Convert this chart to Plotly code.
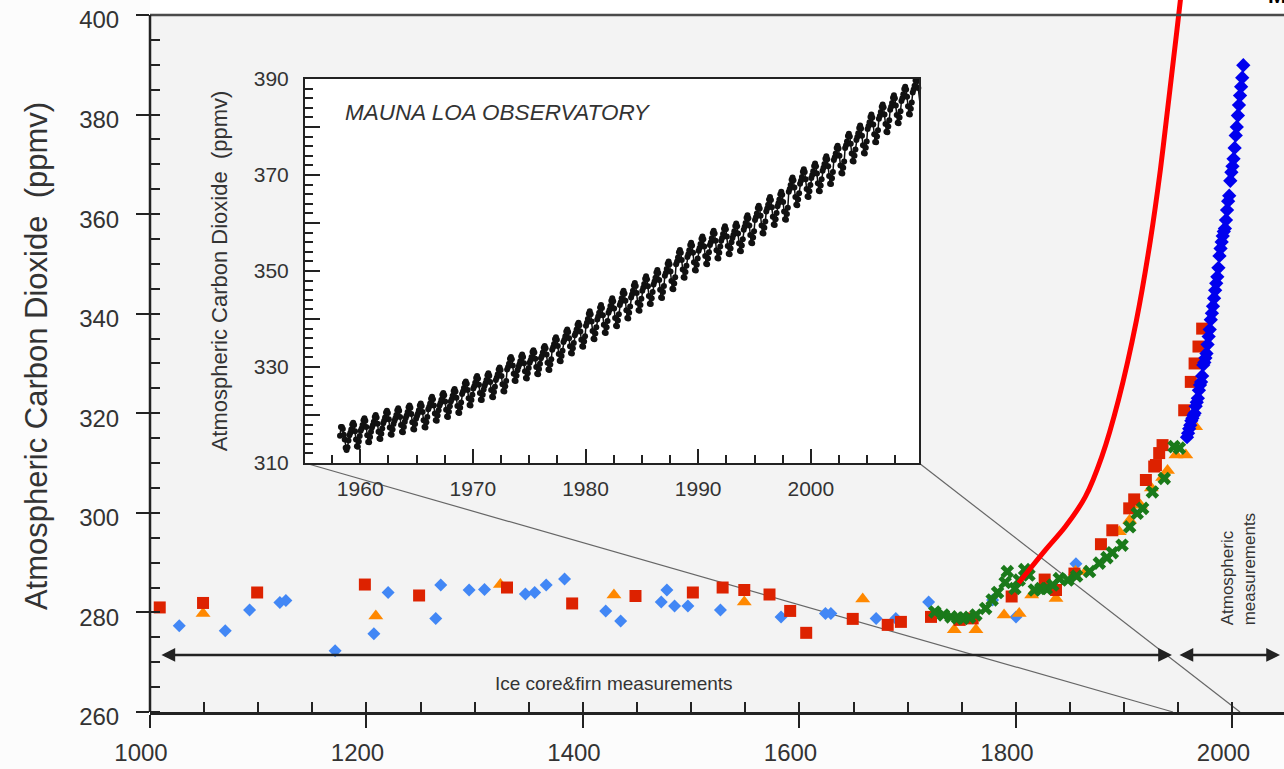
import plotly.graph_objects as go

# ---------------- main panel data (year, ppmv) ----------------
blue_ice_year = [1027, 1069.5, 1092, 1120, 1125.5, 1171, 1206.8, 1220, 1264, 1268.6,
                 1294.8, 1309, 1346.8, 1355.4, 1366, 1383, 1421, 1434.8, 1472.3, 1477.5,
                 1484.6, 1496.9, 1527, 1583, 1624, 1629, 1670.8, 1689, 1719.3, 1778.4,
                 1800, 1855.4]
blue_ice_ppm = [277.3, 276.3, 280.5, 282.0, 282.4, 272.3, 275.7, 284.0, 278.8, 285.5,
                284.5, 284.6, 283.7, 284.0, 285.5, 286.7, 280.3, 278.3, 282.1, 284.5,
                281.3, 281.3, 280.5, 279.1, 279.8, 279.8, 278.8, 278.8, 282.1, 282.5,
                279.1, 289.8]

red_ice_year = [1009, 1049, 1099, 1198.5, 1248.6, 1329.8, 1390, 1448.5, 1501.5, 1529,
                1549, 1572.3, 1591.4, 1606.2, 1649.2, 1681.5, 1693.7, 1721.5, 1748, 1760,
                1796, 1826.5, 1837, 1854, 1878.5, 1889, 1904.6, 1909.2, 1920, 1927.7,
                1929.3, 1932.3, 1935.4, 1955.4, 1961.5, 1965, 1968.6, 1972]
red_ice_ppm = [281.0, 281.9, 284.0, 285.6, 283.4, 285.0, 281.8, 283.3, 284.0, 285.0,
               284.5, 283.6, 280.3, 275.9, 278.7, 277.5, 278.1, 279.1, 278.5, 278.8,
               283.2, 286.6, 284.5, 287.8, 293.7, 296.5, 300.9, 302.7, 306.6, 309.3,
               309.6, 312.0, 313.6, 320.6, 326.3, 330.0, 333.4, 337.0]

orange_ice_year = [1049, 1208.6, 1323.7, 1428.6, 1549, 1658.4, 1743, 1763, 1789, 1803,
                   1814.5, 1837, 1855, 1864.5, 1895.4, 1905, 1915, 1925, 1935.4, 1940,
                   1947.7, 1956.9, 1966]
orange_ice_ppm = [279.8, 279.3, 285.6, 283.5, 282.1, 282.7, 276.5, 276.5, 279.5, 279.8,
                  283.5, 282.8, 288.2, 288.2, 296.2, 298.5, 301.5, 305.0, 307.1, 308.5,
                  311.6, 311.6, 317.3]

green_firn_year = [1725, 1733, 1740, 1746, 1751, 1757, 1763, 1772, 1778, 1783,
                   1790, 1792, 1799, 1803, 1808, 1812, 1817, 1823, 1828, 1834,
                   1840, 1848, 1856, 1868, 1877, 1884, 1889, 1898, 1905, 1912,
                   1917, 1926, 1937, 1946, 1951]
green_firn_ppm = [280.1, 279.5, 279.1, 278.9, 278.8, 279.0, 279.5, 280.8, 282.5, 284.0,
                  286.0, 288.2, 284.8, 286.5, 288.6, 287.5, 284.5, 284.8, 284.8, 285.5,
                  286.8, 286.5, 287.3, 288.2, 289.9, 291.0, 292.0, 293.5, 297.2, 299.9,
                  300.9, 304.2, 306.9, 313.3, 313.0]

mlo_annual_year = list(range(1958, 2011))
mlo_annual_ppm = [315.2, 316.0, 316.9, 317.6, 318.5, 319.0, 319.6, 320.0, 321.4, 322.2,
                  323.0, 324.6, 325.7, 326.3, 327.5, 329.7, 330.2, 331.1, 332.0, 333.8,
                  335.4, 336.8, 338.8, 340.1, 341.5, 343.1, 344.7, 346.1, 347.4, 349.2,
                  351.6, 353.1, 354.4, 355.6, 356.5, 357.1, 358.8, 360.8, 362.6, 363.7,
                  366.7, 368.4, 369.6, 371.1, 373.3, 375.8, 377.5, 379.8, 381.9, 383.8,
                  385.6, 387.4, 389.9]

red_curve_year = [1802.4, 1827.1, 1845.5, 1864.0, 1879.3, 1894.7, 1911.3, 1924.2,
                  1933.4, 1938.9, 1945.4, 1951.9, 1953.5]
red_curve_ppm = [285.9, 292.5, 297.2, 303.2, 311.3, 322.7, 338.7, 354.8,
                 368.9, 378.9, 390.9, 403.0, 407.0]

# ---------------- inset: Mauna Loa monthly (first row starts in March 1958) ----------------
mlo_first_year = 1958
mlo_first_month = 3
mlo_monthly = [
    [315.7, 317.5, 317.5, 317.1, 315.9, 314.9, 313.2, 312.7, 313.3, 314.7],
    [315.8, 316.3, 317.0, 318.0, 318.4, 317.9, 316.6, 314.9, 313.5, 313.4, 314.5, 315.6],
    [316.7, 317.2, 317.9, 318.9, 319.3, 318.8, 317.5, 315.8, 314.4, 314.3, 315.4, 316.5],
    [317.4, 317.9, 318.6, 319.6, 320.0, 319.5, 318.2, 316.5, 315.1, 315.0, 316.1, 317.2],
    [318.3, 318.8, 319.5, 320.5, 320.9, 320.4, 319.1, 317.4, 316.0, 315.9, 317.0, 318.1],
    [318.8, 319.3, 320.0, 321.0, 321.4, 320.9, 319.6, 317.9, 316.5, 316.4, 317.5, 318.6],
    [319.4, 319.9, 320.6, 321.6, 322.0, 321.5, 320.2, 318.5, 317.1, 317.0, 318.1, 319.2],
    [319.8, 320.3, 321.0, 322.0, 322.4, 321.9, 320.6, 318.9, 317.5, 317.4, 318.5, 319.6],
    [321.2, 321.7, 322.4, 323.4, 323.8, 323.3, 322.0, 320.3, 318.9, 318.8, 319.9, 321.0],
    [322.0, 322.5, 323.2, 324.2, 324.6, 324.1, 322.8, 321.1, 319.7, 319.6, 320.7, 321.8],
    [322.8, 323.3, 324.0, 325.0, 325.4, 324.9, 323.6, 321.9, 320.5, 320.4, 321.5, 322.6],
    [324.4, 324.9, 325.6, 326.6, 327.0, 326.5, 325.2, 323.5, 322.1, 322.0, 323.1, 324.2],
    [325.5, 326.0, 326.7, 327.7, 328.1, 327.6, 326.3, 324.6, 323.2, 323.1, 324.2, 325.3],
    [326.1, 326.6, 327.3, 328.3, 328.7, 328.2, 326.9, 325.2, 323.8, 323.7, 324.8, 325.9],
    [327.3, 327.8, 328.5, 329.5, 329.9, 329.4, 328.1, 326.4, 325.0, 324.9, 326.0, 327.1],
    [329.5, 330.0, 330.7, 331.7, 332.1, 331.6, 330.3, 328.6, 327.2, 327.1, 328.2, 329.3],
    [330.0, 330.5, 331.2, 332.2, 332.6, 332.1, 330.8, 329.1, 327.7, 327.6, 328.7, 329.8],
    [330.9, 331.4, 332.1, 333.1, 333.5, 333.0, 331.7, 330.0, 328.6, 328.5, 329.6, 330.7],
    [331.8, 332.3, 333.0, 334.0, 334.4, 333.9, 332.6, 330.9, 329.5, 329.4, 330.5, 331.6],
    [333.6, 334.1, 334.8, 335.8, 336.2, 335.7, 334.4, 332.7, 331.3, 331.2, 332.3, 333.4],
    [335.2, 335.7, 336.4, 337.4, 337.8, 337.3, 336.0, 334.3, 332.9, 332.8, 333.9, 335.0],
    [336.6, 337.1, 337.8, 338.8, 339.2, 338.7, 337.4, 335.7, 334.3, 334.2, 335.3, 336.4],
    [338.6, 339.2, 340.0, 341.1, 341.6, 341.0, 339.5, 337.5, 335.9, 335.8, 337.0, 338.3],
    [339.9, 340.5, 341.3, 342.4, 342.9, 342.3, 340.8, 338.8, 337.2, 337.1, 338.3, 339.6],
    [341.3, 341.9, 342.7, 343.8, 344.3, 343.7, 342.2, 340.2, 338.6, 338.5, 339.7, 341.0],
    [342.9, 343.5, 344.3, 345.4, 345.9, 345.3, 343.8, 341.8, 340.2, 340.1, 341.3, 342.6],
    [344.5, 345.1, 345.9, 347.0, 347.5, 346.9, 345.4, 343.4, 341.8, 341.7, 342.9, 344.2],
    [345.9, 346.5, 347.3, 348.4, 348.9, 348.3, 346.8, 344.8, 343.2, 343.1, 344.3, 345.6],
    [347.2, 347.8, 348.6, 349.7, 350.2, 349.6, 348.1, 346.1, 344.5, 344.4, 345.6, 346.9],
    [349.0, 349.6, 350.4, 351.5, 352.0, 351.4, 349.9, 347.9, 346.3, 346.2, 347.4, 348.7],
    [351.4, 352.0, 352.8, 353.9, 354.4, 353.8, 352.3, 350.3, 348.7, 348.6, 349.8, 351.1],
    [352.9, 353.5, 354.3, 355.4, 355.9, 355.3, 353.8, 351.8, 350.2, 350.1, 351.3, 352.6],
    [354.2, 354.8, 355.6, 356.7, 357.2, 356.6, 355.1, 353.1, 351.5, 351.4, 352.6, 353.9],
    [355.4, 356.0, 356.8, 357.9, 358.4, 357.8, 356.3, 354.3, 352.7, 352.6, 353.8, 355.1],
    [356.3, 356.9, 357.7, 358.8, 359.3, 358.7, 357.2, 355.2, 353.6, 353.5, 354.7, 356.0],
    [356.9, 357.5, 358.3, 359.4, 359.9, 359.3, 357.8, 355.8, 354.2, 354.1, 355.3, 356.6],
    [358.6, 359.2, 360.0, 361.1, 361.6, 361.0, 359.5, 357.5, 355.9, 355.8, 357.0, 358.3],
    [360.6, 361.2, 362.0, 363.1, 363.6, 363.0, 361.5, 359.5, 357.9, 357.8, 359.0, 360.3],
    [362.4, 363.0, 363.8, 364.9, 365.4, 364.8, 363.3, 361.3, 359.7, 359.6, 360.8, 362.1],
    [363.5, 364.1, 364.9, 366.0, 366.5, 365.9, 364.4, 362.4, 360.8, 360.7, 361.9, 363.2],
    [366.5, 367.1, 367.9, 369.0, 369.5, 368.9, 367.4, 365.4, 363.8, 363.7, 364.9, 366.2],
    [368.2, 368.8, 369.6, 370.7, 371.2, 370.6, 369.1, 367.1, 365.5, 365.4, 366.6, 367.9],
    [369.4, 370.0, 370.8, 371.9, 372.4, 371.8, 370.3, 368.3, 366.7, 366.6, 367.8, 369.1],
    [370.9, 371.5, 372.3, 373.4, 373.9, 373.3, 371.8, 369.8, 368.2, 368.1, 369.3, 370.6],
    [373.1, 373.7, 374.5, 375.6, 376.1, 375.5, 374.0, 372.0, 370.4, 370.3, 371.5, 372.8],
    [375.6, 376.2, 377.0, 378.1, 378.6, 378.0, 376.5, 374.5, 372.9, 372.8, 374.0, 375.3],
    [377.3, 377.9, 378.7, 379.8, 380.3, 379.7, 378.2, 376.2, 374.6, 374.5, 375.7, 377.0],
    [379.6, 380.2, 381.0, 382.1, 382.6, 382.0, 380.5, 378.5, 376.9, 376.8, 378.0, 379.3],
    [381.7, 382.3, 383.1, 384.2, 384.7, 384.1, 382.6, 380.6, 379.0, 378.9, 380.1, 381.4],
    [383.6, 384.2, 385.0, 386.1, 386.6, 386.0, 384.5, 382.5, 380.9, 380.8, 382.0, 383.3],
    [385.4, 386.0, 386.8, 387.9, 388.4, 387.8, 386.3, 384.3, 382.7, 382.6, 383.8, 385.1],
    [387.2, 387.8, 388.6, 389.7, 390.2, 389.6, 388.1, 386.1, 384.5, 384.4, 385.6, 386.9],
    [388.5, 389.3, 390.2, 391.0, 391.4, 390.8, 389.2],
]

# tick / label text
main_x_ticks = [1000, 1200, 1400, 1600, 1800, 2000]
inset_x_ticks = [1960, 1970, 1980, 1990, 2000, 2010]
inset_y_ticks = [310, 320, 330, 340, 350, 360, 370, 380, 390]
inset_y_text = ['310', '', '330', '', '350', '', '370', '', '390']

# ---------------- geometry ----------------
W, H = 1284, 769
ML, MR, MT, MB = 150, 0, 0, 57
PW, PH = W - ML - MR, H - MT - MB
X_RANGE = [1000, 2047.6]
Y_RANGE = [260, 403.0]
INSET_X_RANGE = [1955.1, 2009.6]
INSET_Y_RANGE = [310, 390]
inset_dom_x = [(305 - ML) / PW, (919 - ML) / PW]
inset_dom_y = [(H - MB - 463) / PH, (H - MB - 79) / PH]


def ypaper(v):
    return (v - Y_RANGE[0]) / (Y_RANGE[1] - Y_RANGE[0])


def xpaper_px(px):
    return (px - ML) / PW


FONT = 'Liberation Sans, Arial, Helvetica, sans-serif'
INK = '#222222'
TXT = '#333333'

# inset x positions
mlo_x, mlo_y = [], []
for i, row in enumerate(mlo_monthly):
    yr = mlo_first_year + i
    m0 = mlo_first_month if i == 0 else 1
    for j, v in enumerate(row):
        mlo_x.append(yr + (m0 + j - 0.5) / 12.0)
        mlo_y.append(v)

fig = go.Figure()
fig.add_trace(go.Scatter(x=blue_ice_year, y=blue_ice_ppm, mode='markers',
                         marker=dict(symbol='diamond', size=10, color='#4287f5', line=dict(width=0)),
                         hoverinfo='skip'))
fig.add_trace(go.Scatter(x=orange_ice_year, y=orange_ice_ppm, mode='markers',
                         marker=dict(symbol='triangle-up', size=13, color='#ff8800', line=dict(width=0)),
                         hoverinfo='skip'))
fig.add_trace(go.Scatter(x=red_ice_year, y=red_ice_ppm, mode='markers',
                         marker=dict(symbol='square', size=12, color='#dd2200', line=dict(width=0)),
                         hoverinfo='skip'))
fig.add_trace(go.Scatter(x=green_firn_year, y=green_firn_ppm, mode='markers',
                         marker=dict(symbol='x', size=12, color='#1a7a1a', line=dict(width=0)),
                         hoverinfo='skip'))
fig.add_trace(go.Scatter(x=mlo_annual_year, y=mlo_annual_ppm, mode='markers',
                         marker=dict(symbol='diamond', size=11, color='#0000ee', line=dict(width=0)),
                         hoverinfo='skip'))
fig.add_trace(go.Scatter(x=red_curve_year, y=red_curve_ppm, mode='lines',
                         line=dict(color='#ff0000', width=5, shape='spline', smoothing=0.8),
                         hoverinfo='skip'))
# inset
fig.add_trace(go.Scatter(x=mlo_x, y=mlo_y, mode='lines+markers', xaxis='x2', yaxis='y2',
                         line=dict(color='#111111', width=1.5),
                         marker=dict(symbol='circle', size=6, color='#111111'),
                         cliponaxis=False, hoverinfo='skip'))
# helper trace for overlay tick axes
fig.add_trace(go.Scatter(x=[X_RANGE[0]], y=[Y_RANGE[0]], xaxis='x3', yaxis='y3', mode='markers',
                         marker=dict(opacity=0), hoverinfo='skip'))

shapes = [
    dict(type='rect', xref='paper', yref='paper', x0=0, x1=1, y0=0, y1=ypaper(400),
         fillcolor='#f3f3f3', line=dict(width=0), layer='below'),
    dict(type='rect', xref='x2', yref='y2', x0=INSET_X_RANGE[0], x1=INSET_X_RANGE[1],
         y0=INSET_Y_RANGE[0], y1=INSET_Y_RANGE[1], fillcolor='#ffffff', line=dict(width=0), layer='below'),
    dict(type='line', xref='paper', yref='paper', x0=inset_dom_x[0], y0=inset_dom_y[0],
         x1=xpaper_px(1173), y1=0, line=dict(color='#666666', width=1.2), layer='below'),
    dict(type='line', xref='paper', yref='paper', x0=inset_dom_x[1], y0=inset_dom_y[0],
         x1=xpaper_px(1240), y1=0, line=dict(color='#666666', width=1.2), layer='below'),
    dict(type='line', xref='paper', yref='paper', x0=0, x1=1, y0=ypaper(400), y1=ypaper(400),
         line=dict(color='#4a4a4a', width=2.5), layer='above'),
    dict(type='line', xref='paper', yref='paper', x0=0, x1=0, y0=0, y1=ypaper(400),
         line=dict(color=INK, width=2.5), layer='above'),
]

annotations = [
    dict(x=1944.1, y=271.45, ax=1009.2, ay=271.45, xref='x', yref='y', axref='x', ayref='y',
         text='', showarrow=True, arrowhead=2, startarrowhead=2, arrowside='end+start',
         arrowsize=1.1, startarrowsize=1.1, arrowwidth=2.5, arrowcolor=INK, standoff=0, startstandoff=0),
    dict(x=2043.9, y=271.45, ax=1949.7, ay=271.45, xref='x', yref='y', axref='x', ayref='y',
         text='', showarrow=True, arrowhead=2, startarrowhead=2, arrowside='end+start',
         arrowsize=1.1, startarrowsize=1.1, arrowwidth=2.5, arrowcolor=INK, standoff=0, startstandoff=0),
    dict(x=1429, y=265.8, xref='x', yref='y', text='Ice core&amp;firn measurements', showarrow=False,
         font=dict(family=FONT, size=19, color=TXT)),
    dict(x=2005.3, y=288.7, xref='x', yref='y', text='Atmospheric<br>measurements', showarrow=False,
         textangle=-90, align='left', font=dict(family=FONT, size=17, color=TXT)),
    dict(x=0.062, y=0.9115, xref='x2 domain', yref='y2 domain', xanchor='left', yanchor='middle',
         text='<i>MAUNA LOA OBSERVATORY</i>', showarrow=False,
         font=dict(family=FONT, size=22.5, color=TXT)),
    dict(x=xpaper_px(1266), y=(PH - 10) / PH, xref='paper', yref='paper', xanchor='left', yanchor='bottom',
         text='<b>M</b>', showarrow=False, font=dict(family=FONT, size=22, color='#000000')),
]

fig.update_layout(
    width=W, height=H,
    margin=dict(l=ML, r=MR, t=MT, b=MB, pad=0, autoexpand=False),
    paper_bgcolor='#fcfcfc', plot_bgcolor='#ffffff',
    showlegend=False,
    font=dict(family=FONT, color=TXT),
    shapes=shapes,
    annotations=annotations,
    xaxis=dict(range=X_RANGE, domain=[0, 1], anchor='y', tickmode='array', tickvals=main_x_ticks,
               automargin=False,
               ticks='outside', ticklen=13, tickwidth=2, tickcolor=INK,
               showline=True, linecolor=INK, linewidth=2.5, showgrid=False, zeroline=False,
               tickfont=dict(family=FONT, size=24, color=TXT), ticklabelshift=-9, ticklabelstandoff=4,
               minor=dict(tickmode='linear', tick0=1000, dtick=50, ticks='inside', ticklen=10,
                          tickwidth=2, tickcolor=INK, showgrid=False)),
    yaxis=dict(range=Y_RANGE, domain=[0, 1], anchor='x', tickmode='linear', tick0=260, dtick=20,
               automargin=False,
               ticks='outside', ticklen=13, tickwidth=2, tickcolor=INK,
               showline=False, showgrid=False, zeroline=False,
               tickfont=dict(family=FONT, size=24, color=TXT), ticklabelstandoff=12, ticklabelshift=5,
               title=dict(text='Atmospheric Carbon Dioxide\u00a0 (ppmv)',
                          font=dict(family=FONT, size=31, color=TXT), standoff=22),
               minor=dict(tickmode='linear', tick0=260, dtick=5, ticks='inside', ticklen=10,
                          tickwidth=2, tickcolor=INK, showgrid=False)),
    xaxis3=dict(range=X_RANGE, overlaying='x', anchor='y3', tickmode='linear', tick0=1000, dtick=200,
                automargin=False,
                ticks='inside', ticklen=10, tickwidth=2, tickcolor=INK, showticklabels=False,
                showline=False, showgrid=False, zeroline=False),
    yaxis3=dict(range=Y_RANGE, overlaying='y', anchor='x3', tickmode='linear', tick0=260, dtick=20,
                automargin=False,
                ticks='inside', ticklen=10, tickwidth=2, tickcolor=INK, showticklabels=False,
                showline=False, showgrid=False, zeroline=False),
    xaxis2=dict(range=INSET_X_RANGE, domain=inset_dom_x, anchor='y2', tickmode='array',
                automargin=False,
                tickvals=inset_x_ticks, ticks='inside', ticklen=14, tickwidth=1.5, tickcolor=INK,
                showline=True, mirror=True, linecolor=INK, linewidth=2, showgrid=False, zeroline=False,
                tickfont=dict(family=FONT, size=21, color=TXT), ticklabelstandoff=6,
                minor=dict(tickmode='linear', tick0=1960, dtick=2.5, ticks='inside', ticklen=8,
                           tickwidth=1.5, tickcolor=INK, showgrid=False)),
    yaxis2=dict(range=INSET_Y_RANGE, domain=inset_dom_y, anchor='x2', tickmode='array',
                automargin=False,
                tickvals=inset_y_ticks, ticktext=inset_y_text, ticks='inside', ticklen=15, tickwidth=1.5,
                tickcolor=INK, showline=True, mirror=True, linecolor=INK, linewidth=2,
                showgrid=False, zeroline=False,
                tickfont=dict(family=FONT, size=21, color=TXT), ticklabelstandoff=10,
                title=dict(text='Atmospheric Carbon Dioxide\u00a0 (ppmv)',
                           font=dict(family=FONT, size=22, color=TXT), standoff=20),
                minor=dict(tickmode='linear', tick0=310, dtick=2, ticks='inside', ticklen=8,
                           tickwidth=1.5, tickcolor=INK, showgrid=False)),
)

fig.write_html('out.html', config={'displayModeBar': False},
               post_script="document.body.style.margin='0px';")
